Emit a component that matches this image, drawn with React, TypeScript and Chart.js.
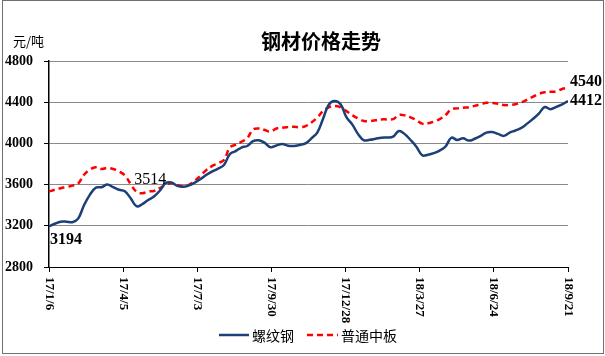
import React, { useEffect, useRef } from 'react';
import { Chart, registerables } from 'chart.js';

Chart.register(...registerables);

// Weekly observations, 2017/1/6 .. 2018/9/21 (yuan / tonne)
const rebar = [
  3194, 3220, 3240, 3240, 3235, 3270, 3400, 3500, 3570, 3575,
  3600, 3575, 3550, 3535, 3468, 3390, 3410, 3450, 3485, 3540,
  3615, 3620, 3588, 3578, 3592, 3620, 3655, 3695, 3728, 3755,
  3790, 3895, 3925, 3960, 3975, 4022, 4030, 4005, 3962, 3980,
  3993, 3978, 3975, 3985, 4000, 4049, 4105, 4240, 4378, 4412,
  4380, 4255, 4185, 4090, 4030, 4035, 4045, 4055, 4057, 4065,
  4120, 4090, 4033, 3968, 3885, 3890, 3905, 3930, 3970, 4055,
  4033, 4049, 4027, 4045, 4072, 4105, 4110, 4092, 4073, 4105,
  4125, 4150, 4192, 4238, 4290, 4353, 4332, 4355, 4378, 4412,
];

const plate = [
  3533, 3550, 3565, 3578, 3590, 3610, 3695, 3745, 3768, 3752,
  3762, 3752, 3728, 3690, 3605, 3530, 3515, 3533, 3538, 3565,
  3598, 3612, 3598, 3582, 3597, 3638, 3688, 3742, 3782, 3808,
  3840, 3958, 3988, 4016, 4052, 4135, 4145, 4130, 4115, 4145,
  4153, 4158, 4162, 4157, 4168, 4203, 4250, 4315, 4350, 4362,
  4350, 4313, 4275, 4242, 4217, 4217, 4224, 4233, 4233, 4235,
  4275, 4272, 4253, 4227, 4192, 4195, 4212, 4236, 4275, 4332,
  4340, 4347, 4352, 4364, 4380, 4394, 4393, 4385, 4372, 4374,
  4380, 4398, 4425, 4453, 4481, 4496, 4501, 4506, 4528, 4540,
];

const tickDays = [0, 89, 178, 267, 356, 445, 534, 623];
const tickLabels = ['17/1/6', '17/4/5', '17/7/3', '17/9/30', '17/12/28', '18/3/27', '18/6/24', '18/9/21'];
const seriesNames = ['螺纹钢', '普通中板'];
const chartTitle = '钢材价格走势';
const unitLabel = '元/吨';
const annotations = [
  { series: 0, index: 0, text: '3194', bold: true, dx: 17, dy: 13 },
  { series: 1, index: 16, text: '3514', bold: false, dx: 8, dy: -14 },
  { series: 1, index: 89, text: '4540', bold: true, dx: 18, dy: -6 },
  { series: 0, index: 89, text: '4412', bold: true, dx: 18, dy: 0 },
];

const BLUE = '#1C3F78';
const RED = '#FF0000';
const SERIF = '"Liberation Serif", "Times New Roman", serif';
const CJK = '"Noto Sans CJK SC", sans-serif';

export default function App() {
  const ref = useRef<HTMLCanvasElement | null>(null);

  useEffect(() => {
    document.body.style.margin = '0';
    const canvas = ref.current;
    if (!canvas) return;

    const decor = {
      id: 'decor',
      beforeDraw(chart: any) {
        const ctx = chart.ctx;
        ctx.save();
        ctx.fillStyle = '#ffffff';
        ctx.fillRect(0, 0, chart.width, chart.height);
        ctx.restore();
      },
      afterDraw(chart: any) {
        const ctx = chart.ctx;
        const xs = chart.scales.x;
        const ys = chart.scales.y;
        ctx.save();
        // title & unit
        ctx.fillStyle = '#000';
        ctx.textAlign = 'center';
        ctx.textBaseline = 'middle';
        ctx.font = `bold 20px ${CJK}`;
        ctx.fillText(chartTitle, 321, 41);
        ctx.textAlign = 'left';
        ctx.font = `13px ${CJK}`;
        ctx.fillText(unitLabel, 13, 41);

        // x tick labels rotated (top to bottom)
        ctx.font = `bold 13px ${SERIF}`;
        tickDays.forEach((d, i) => {
          const x = xs.getPixelForValue(d);
          ctx.save();
          ctx.translate(x, 277);
          ctx.rotate(Math.PI / 2);
          ctx.textAlign = 'left';
          ctx.textBaseline = 'middle';
          ctx.fillText(tickLabels[i], 0, 0);
          ctx.restore();
        });

        // annotations
        ctx.textAlign = 'center';
        ctx.textBaseline = 'middle';
        annotations.forEach((a) => {
          const vals = a.series === 0 ? rebar : plate;
          const x = xs.getPixelForValue(a.index * 7) + a.dx;
          const y = ys.getPixelForValue(vals[a.index]) + a.dy;
          ctx.font = `${a.bold ? 'bold ' : ''}16px ${SERIF}`;
          ctx.fillText(a.text, x, y);
        });

        // legend
        const ly = 335;
        ctx.lineWidth = 2.5;
        ctx.strokeStyle = BLUE;
        ctx.setLineDash([]);
        ctx.beginPath();
        ctx.moveTo(219, ly);
        ctx.lineTo(249, ly);
        ctx.stroke();
        ctx.strokeStyle = RED;
        ctx.setLineDash([6, 4]);
        ctx.beginPath();
        ctx.moveTo(307, ly);
        ctx.lineTo(338, ly);
        ctx.stroke();
        ctx.setLineDash([]);
        ctx.fillStyle = '#000';
        ctx.textAlign = 'left';
        ctx.font = `14px ${CJK}`;
        ctx.fillText(seriesNames[0], 252, ly + 1);
        ctx.fillText(seriesNames[1], 341, ly + 1);

        // outer frame
        ctx.strokeStyle = '#707070';
        ctx.lineWidth = 1;
        ctx.strokeRect(2.5, 0.5, 601, 353);
        ctx.restore();
      },
    };

    const chart = new Chart(canvas, {
      type: 'line',
      data: {
        datasets: [
          {
            label: seriesNames[0],
            data: rebar.map((v, i) => ({ x: i * 7, y: v })),
            borderColor: BLUE,
            backgroundColor: BLUE,
            borderWidth: 2.5,
            pointRadius: 0,
            tension: 0.4,
            fill: false,
          },
          {
            label: seriesNames[1],
            data: plate.map((v, i) => ({ x: i * 7, y: v })),
            borderColor: RED,
            backgroundColor: RED,
            borderWidth: 2.5,
            borderDash: [6, 4],
            pointRadius: 0,
            tension: 0.4,
            fill: false,
          },
        ],
      },
      options: {
        responsive: false,
        animation: false,
        devicePixelRatio: 1,
        layout: { padding: { top: 61, left: 0, right: 37, bottom: 0 } },
        plugins: {
          legend: { display: false },
          title: { display: false },
          tooltip: { enabled: false },
        },
        scales: {
          x: {
            type: 'linear',
            min: 0,
            max: 623,
            afterBuildTicks: (s: any) => {
              s.ticks = tickDays.map((v) => ({ value: v }));
            },
            afterFit: (s: any) => {
              s.height = 89;
            },
            grid: {
              drawOnChartArea: false,
              drawTicks: true,
              tickLength: 5,
              tickColor: '#000',
            },
            border: { display: true, color: '#000', width: 1 },
            ticks: { display: false },
          },
          y: {
            min: 2800,
            max: 4800,
            afterFit: (s: any) => {
              s.width = 49;
            },
            ticks: {
              stepSize: 400,
              padding: 11,
              color: '#000',
              font: { family: SERIF, size: 14, weight: 'bold' },
              callback: (v: any) => String(v),
            },
            grid: {
              color: '#8a8a8a',
              borderDash: [2, 2],
              tickLength: 5,
              tickColor: '#000',
              tickBorderDash: [],
              lineWidth: 1,
            },
            border: { display: true, color: '#000', width: 1.5 },
          },
        },
      } as any,
      plugins: [decor],
    });

    return () => chart.destroy();
  }, []);

  return (
    <div style={{ position: 'fixed', left: 0, top: 0, width: 605, height: 356 }}>
      <canvas ref={ref} width={605} height={356} style={{ display: 'block' }} />
    </div>
  );
}
